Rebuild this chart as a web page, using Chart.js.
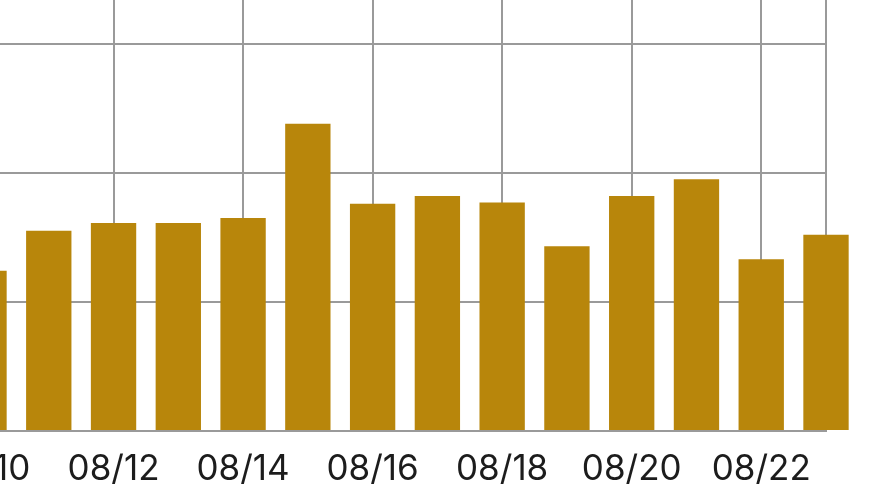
<!DOCTYPE html>
<html>
<head>
<meta charset="utf-8">
<script src="https://cdn.jsdelivr.net/npm/chart.js@4/dist/chart.umd.min.js"></script>
<style>
  html, body { margin: 0; padding: 0; background: #fff; overflow: hidden; }
  body { width: 891px; height: 502px; position: relative; }
  /* La vue est un recadrage du graphique : le canvas déborde à gauche et en haut */
  #wrap { position: absolute; left: -16px; top: -21px; width: 907px; height: 522px; }
</style>
</head>
<body>
<div id="wrap"><canvas id="chart" width="907" height="522"></canvas></div>
<script>
// Données
const dates  = ['08/10', '08/11', '08/12', '08/13', '08/14', '08/15', '08/16',
                '08/17', '08/18', '08/19', '08/20', '08/21', '08/22', '08/23'];
const values = [1.24, 1.55, 1.61, 1.61, 1.65, 2.38, 1.76,
                1.82, 1.77, 1.43, 1.82, 1.95, 1.33, 1.52];
const yTicks = [0, 1, 2, 3];

const GRID = '#9a9a9a';
const BAR  = '#B8860B';
const last = dates.length - 1;

new Chart(document.getElementById('chart'), {
  type: 'bar',
  data: {
    labels: dates,
    datasets: [{
      data:               values,
      backgroundColor:    BAR,
      borderWidth:        0,
      categoryPercentage: 1,
      barPercentage:      0.7,
      clip:               false,
    }],
  },
  options: {
    responsive:  false,
    animation:   false,
    layout:      { padding: { left: 0, right: 65, top: 0, bottom: 0 } },
    plugins: {
      legend:  { display: false },
      tooltip: { enabled: false },
    },
    scales: {
      x: {
        offset: false,
        grid: {
          offset:     false,
          drawTicks:  false,
          lineWidth:  2,
          // une ligne sur deux, plus le bord droit
          color: ctx => (ctx.index % 2 === 0 || ctx.index === last) ? GRID : 'rgba(0,0,0,0)',
        },
        border: { display: true, color: GRID, width: 2 },
        ticks: {
          autoSkip:    false,
          maxRotation: 0,
          minRotation: 0,
          padding:     17,
          color:       '#1c1c1c',
          font:        { family: 'Inter', size: 35 },
          callback:    (v, i) => (i % 2 === 0 ? dates[i] : ''),
        },
        afterFit: s => { s.paddingLeft = 0; s.paddingRight = 0; s.height = 70; },
      },
      y: {
        min: 0,
        max: 3.5,
        grid:   { drawTicks: false, lineWidth: 2, color: GRID },
        border: { display: false },
        ticks:  {
          display:  false,
          stepSize: 1,
          callback: v => (yTicks.includes(v) ? String(v) : null),
        },
        afterFit: s => { s.width = 0; },
      },
    },
  },
});
</script>
</body>
</html>
